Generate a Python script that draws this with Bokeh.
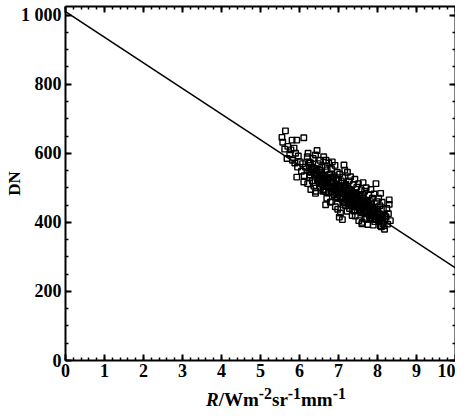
from bokeh.plotting import figure
from bokeh.models import (Range1d, LinearAxis, SingleIntervalTicker,
                          ColumnDataSource, Div)
from bokeh.layouts import column
from bokeh.embed import file_html
from bokeh.resources import INLINE

# ---------------- data ----------------
# regression line end points (R, DN)
line_R = [0.0, 10.0]
line_DN = [1010.0, 268.0]

# scatter points
pts_R = [
    5.64, 5.55, 5.57, 5.81, 5.93, 6.11, 5.62, 5.70, 5.78, 5.86, 5.75, 5.90,
    5.68, 5.82, 5.97, 6.02, 5.95, 6.08, 6.05, 6.15, 5.88, 6.20, 6.25, 6.12,
    5.93, 6.11,
    6.22, 6.35, 6.28, 6.31, 6.24, 6.38, 6.26, 6.33, 6.21, 6.37, 6.29, 6.25, 6.36, 6.30,
    6.45, 6.41, 6.52, 6.48, 6.57, 6.43, 6.55, 6.50, 6.46, 6.59, 6.53, 6.42, 6.41, 6.56, 6.49,
    6.68, 6.62, 6.75, 6.66, 6.71, 6.78, 6.64, 6.73, 6.69, 6.77, 6.61, 6.74, 6.70, 6.79, 6.67,
    6.84, 6.91, 6.82, 6.97, 6.88, 6.94, 6.81, 6.99, 6.86, 6.93, 6.89, 6.96, 6.83, 6.92, 6.98,
    7.14, 7.16, 7.03, 7.11, 7.07, 7.19, 7.01, 7.13, 7.09, 7.17, 7.05, 7.12, 7.18, 7.05, 7.10, 7.02,
    7.23, 7.31, 7.27, 7.38, 7.21, 7.34, 7.29, 7.36, 7.25, 7.32, 7.39, 7.28, 7.22, 7.35,
    7.42, 7.51, 7.47, 7.58, 7.44, 7.55, 7.49, 7.41, 7.57, 7.46, 7.53, 7.59, 7.43, 7.60, 7.52,
    7.63, 7.71, 7.67, 7.78, 7.62, 7.74, 7.69, 7.76, 7.65, 7.72, 7.79, 7.68, 7.61, 7.75,
    7.96, 7.83, 7.91, 7.87, 7.99, 7.82, 7.94, 7.88, 7.85, 7.97, 7.81, 7.93, 7.89,
    8.08, 8.03, 8.12, 8.06, 8.15, 8.01, 8.18, 8.09, 8.04, 8.14, 8.12, 8.18, 8.07,
    8.30, 8.30, 8.24, 8.28, 8.22, 8.33, 8.26,
    6.33, 6.47, 6.58, 6.63, 6.72, 6.85, 6.90, 6.95, 7.04, 7.08, 7.15, 7.20, 7.26,
    7.30, 7.37, 7.40, 7.45, 7.50, 7.56, 7.64, 7.70, 7.73, 7.80, 7.86, 7.90,
    6.39, 6.51, 6.65, 6.76, 6.87, 7.00, 7.06, 7.12, 7.24, 7.33, 7.44, 7.54, 7.66,
    7.77, 7.84, 6.44, 6.60, 6.80, 6.96, 7.18, 7.36, 7.48, 7.62, 7.82, 7.92,
    6.27, 6.34, 6.40, 6.46, 6.53, 6.57, 6.62, 6.67, 6.71, 6.74, 6.79, 6.83, 6.86,
    6.89, 6.93, 6.97, 7.01, 7.04, 7.07, 7.11, 7.14, 7.17, 7.21, 7.25, 7.28, 7.31,
    7.35, 7.38, 7.42, 7.46, 7.49, 7.53, 7.57, 7.61, 7.65, 7.68, 7.72, 7.76, 7.79,
    7.83, 7.87, 7.91, 7.95, 7.98, 8.02, 8.06, 8.10, 8.13, 8.17, 8.20,
    6.50, 6.55, 6.61, 6.66, 6.70, 6.75, 6.81, 6.84, 6.91, 6.94, 6.99, 7.03, 7.09,
    7.13, 7.16, 7.22, 7.27, 7.32, 7.39, 7.43, 7.47, 7.55, 7.59, 7.67, 7.74, 7.81,
    7.88, 7.94, 8.00, 8.05,
]
pts_DN = [
    665, 646, 632, 638, 638, 645, 612, 620, 610, 615, 598, 600,
    585, 580, 592, 575, 560, 570, 548, 560, 572, 590, 575, 535,
    531, 517,
    600, 585, 572, 560, 548, 540, 530, 520, 512, 505, 495, 565, 555, 545,
    608, 595, 580, 570, 560, 550, 540, 530, 520, 510, 500, 490, 484, 545, 525,
    580, 590, 572, 562, 552, 540, 532, 522, 514, 505, 495, 485, 470, 458, 451,
    575, 565, 555, 545, 535, 525, 515, 505, 498, 490, 480, 470, 460, 445, 438,
    566, 551, 540, 530, 520, 510, 500, 492, 484, 476, 468, 458, 448, 427, 408, 415,
    545, 532, 520, 510, 500, 490, 482, 474, 466, 458, 450, 440, 432, 420,
    525, 512, 502, 494, 485, 476, 468, 460, 452, 444, 436, 428, 418, 396, 405,
    515, 500, 490, 480, 470, 462, 454, 446, 438, 430, 420, 410, 400, 394,
    512, 495, 482, 470, 460, 452, 444, 436, 428, 420, 412, 402, 392,
    484, 470, 458, 448, 438, 428, 420, 412, 404, 396, 411, 380, 390,
    465, 452, 440, 425, 415, 405, 395,
    560, 520, 527, 493, 526, 502, 480, 522, 483, 497, 457, 484, 489,
    456, 466, 433, 479, 446, 459, 428, 464, 434, 411, 441, 418,
    556, 512, 537, 500, 516, 521, 474, 504, 469, 492, 464, 480, 446,
    451, 414, 537, 490, 529, 474, 507, 448, 435, 481, 460, 434,
    537, 554, 515, 537, 550, 511, 521, 489, 530, 506, 516, 487, 529,
    489, 500, 471, 506, 486, 497, 452, 500, 472, 483, 454, 496, 454,
    465, 484, 435, 467, 446, 481, 432, 449, 460, 428, 409, 448, 428,
    453, 408, 429, 410, 438, 413, 424, 387, 415, 390, 418,
    538, 518, 534, 504, 517, 529, 503, 489, 505, 511, 483, 490, 468,
    493, 505, 464, 477, 485, 456, 473, 480, 446, 459, 449, 456, 433,
    441, 419, 424, 407,
]

x_tick_interval = 1
y_tick_interval = 200
y_label_overrides = {1000: "1 000"}
x_title_html = "<i>R</i>/Wm<sup>-2</sup>sr<sup>-1</sup>mm<sup>-1</sup>"
y_title = "DN"

# ---------------- figure ----------------
FONT = "Liberation Serif"

p = figure(width=455, height=388, output_backend="svg", toolbar_location=None,
           x_range=Range1d(0, 10), y_range=Range1d(0, 1025),
           x_axis_location=None, y_axis_location=None,
           min_border_left=65, min_border_right=0, min_border_top=6,
           min_border_bottom=28)
p.outline_line_color = None
p.xgrid.visible = False
p.ygrid.visible = False
p.background_fill_color = "white"
p.border_fill_color = "white"

xt = SingleIntervalTicker(interval=x_tick_interval, num_minor_ticks=5)
yt = SingleIntervalTicker(interval=y_tick_interval, num_minor_ticks=4)

bottom_ax = LinearAxis(ticker=xt)
left_ax = LinearAxis(ticker=yt, major_label_overrides=y_label_overrides)
top_ax = LinearAxis(ticker=xt)
right_ax = LinearAxis(ticker=yt)

for ax in [bottom_ax, left_ax, top_ax, right_ax]:
    ax.axis_line_width = 2
    ax.axis_line_color = "black"
    ax.major_tick_in = 6
    ax.major_tick_out = 0
    ax.minor_tick_in = 3
    ax.minor_tick_out = 0
    ax.major_tick_line_width = 2
    ax.minor_tick_line_width = 1.5
    ax.major_tick_line_color = "black"
    ax.minor_tick_line_color = "black"
    ax.major_label_text_font = FONT
    ax.major_label_text_font_size = "18px"
    ax.major_label_text_font_style = "bold"
    ax.major_label_text_color = "black"

# mirrored frame axes: ticks only, no labels
for ax in [top_ax, right_ax]:
    ax.major_label_text_font_size = "0px"
    ax.major_label_text_color = None
    ax.major_label_standoff = 0
    ax.axis_label_standoff = 0

left_ax.major_label_standoff = 4
bottom_ax.major_label_standoff = 3

left_ax.axis_label = y_title
left_ax.axis_label_text_font = FONT
left_ax.axis_label_text_font_size = "17px"
left_ax.axis_label_text_font_style = "bold"
left_ax.axis_label_text_color = "black"
left_ax.axis_label_standoff = -6

p.add_layout(bottom_ax, "below")
p.add_layout(left_ax, "left")
p.add_layout(top_ax, "above")
p.add_layout(right_ax, "right")

# regression line
p.line(line_R, line_DN, line_color="black", line_width=1.6)

# data points (hollow squares)
src = ColumnDataSource(dict(R=pts_R, DN=pts_DN))
p.scatter("R", "DN", source=src, marker="square", size=5.5,
          fill_color=None, line_color="black", line_width=1.4)

# x-axis title with italic R and superscripts
xtitle = Div(text=('<div style="font-family:\'Liberation Serif\'; font-size:19px; '
                   'font-weight:bold; line-height:12px; color:black; '
                   'padding-left:206px; white-space:nowrap;">' + x_title_html + '</div>'),
             width=455, height=12, margin=(0, 0, 0, 0))

layout = column(p, xtitle, spacing=0)

open("out.html", "w").write(file_html(layout, INLINE))
